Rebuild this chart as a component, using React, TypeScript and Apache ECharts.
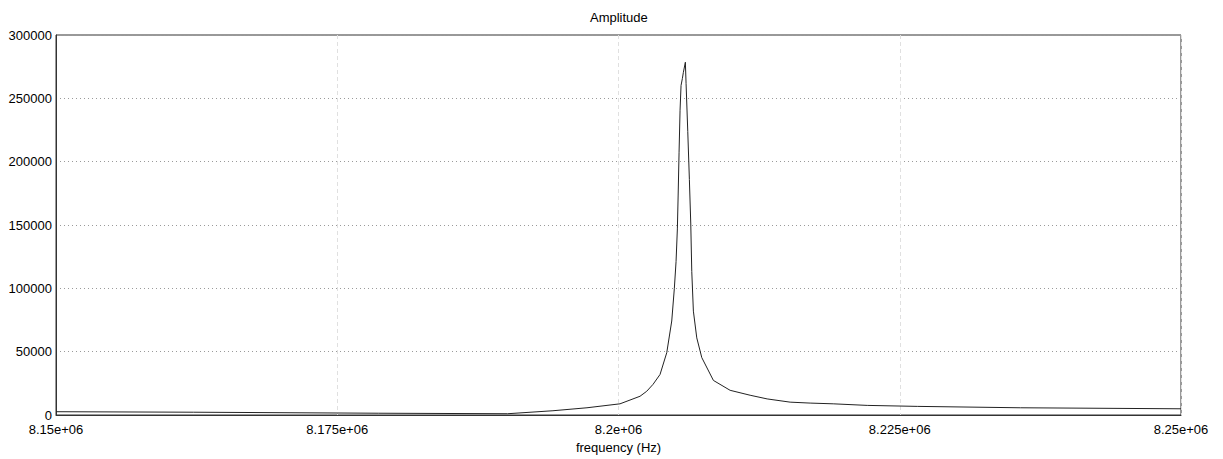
import React, { useEffect, useRef } from "react";
import * as echarts from "echarts";

const frequencies = [
  8150000, 8162206, 8178692, 8190143, 8194173, 8197198, 8200134, 8201913,
  8202509, 8203070, 8203693, 8204289, 8204733, 8204965, 8205116,
  8205232, 8205300, 8205383, 8205472, 8205561, 8205677, 8205766, 8205944,
  8206006, 8206157, 8206300, 8206424, 8206513, 8206656, 8206958, 8207403,
  8208435, 8209920, 8211700, 8213212, 8215258, 8217037, 8219084, 8222109,
  8226557, 8235721, 8250000,
];
const amplitudes = [
  2600, 2200, 1400, 1000, 3360, 5700, 8830, 14800,
  18750, 24200, 32000, 49200, 74200, 100000, 121100,
  146900, 172900, 207000, 240600, 260200, 265600, 270500, 278500,
  261700, 223700, 185900, 150800, 113300, 82000, 60900, 45300,
  27300, 19500, 15600, 12700, 10150, 9400, 8830, 7580,
  6800, 5700, 4900,
];
const xTicks = [8150000, 8175000, 8200000, 8225000, 8250000];
const yTicks = [0, 50000, 100000, 150000, 200000, 250000, 300000];

const FONT = "'Liberation Sans', Arial, sans-serif";

export default function App() {
  const ref = useRef<HTMLDivElement>(null);
  useEffect(() => {
    if (!ref.current) return;
    const chart = echarts.init(ref.current, undefined, { renderer: "svg" });
    chart.setOption({
      animation: false,
      backgroundColor: "#ffffff",
      title: {
        text: "Amplitude",
        left: 590,
        top: 11,
        padding: 0,
        textStyle: { fontFamily: FONT, fontSize: 13, fontWeight: "normal", color: "#000" },
      },
      grid: {
        left: 56,
        top: 35,
        right: 42,
        bottom: 41,
        show: true,
        borderColor: "#333",
        borderWidth: 1,
        backgroundColor: "#fff",
      },
      xAxis: {
        type: "value",
        min: xTicks[0],
        max: xTicks[xTicks.length - 1],
        interval: xTicks[1] - xTicks[0],
        name: "frequency (Hz)",
        nameLocation: "middle",
        nameGap: 26,
        nameTextStyle: { fontFamily: FONT, fontSize: 13, color: "#000" },
        axisLine: { show: true, onZero: false, lineStyle: { color: "#333", width: 1 } },
        axisTick: { show: false },
        axisLabel: {
          show: true,
          margin: 8,
          fontFamily: FONT,
          fontSize: 13,
          color: "#000",
          showMinLabel: true,
          showMaxLabel: true,
          hideOverlap: false,
          formatter: (v: number) => Number((v / 1e6).toFixed(4)).toString() + "e+06",
        },
        splitLine: { show: true, lineStyle: { color: "#e0e0e0", type: [4, 3], width: 1 } },
      },
      yAxis: {
        type: "value",
        min: yTicks[0],
        max: yTicks[yTicks.length - 1],
        interval: yTicks[1] - yTicks[0],
        axisLine: { show: true, lineStyle: { color: "#333", width: 1 } },
        axisTick: { show: false },
        axisLabel: {
          margin: 4,
          fontFamily: FONT,
          fontSize: 13,
          color: "#000",
          showMinLabel: true,
          showMaxLabel: true,
          verticalAlign: "middle",
          padding: [0, 0, 4, 0],
          formatter: (v: number) => String(v),
        },
        splitLine: { show: true, lineStyle: { color: "#9a9a9a", type: [1, 3], width: 1 } },
      },
      series: [
        {
          type: "line",
          data: frequencies.map((f, i) => [f, amplitudes[i]]),
          showSymbol: false,
          symbol: "none",
          lineStyle: { color: "#222", width: 1 },
          clip: true,
        },
      ],
    });
    return () => chart.dispose();
  }, []);
  return (
    <div
      style={{
        position: "absolute",
        left: 0,
        top: 0,
        width: 1223,
        height: 459,
        background: "#fff",
      }}
    >
      <div ref={ref} style={{ width: 1223, height: 459 }} />
    </div>
  );
}
